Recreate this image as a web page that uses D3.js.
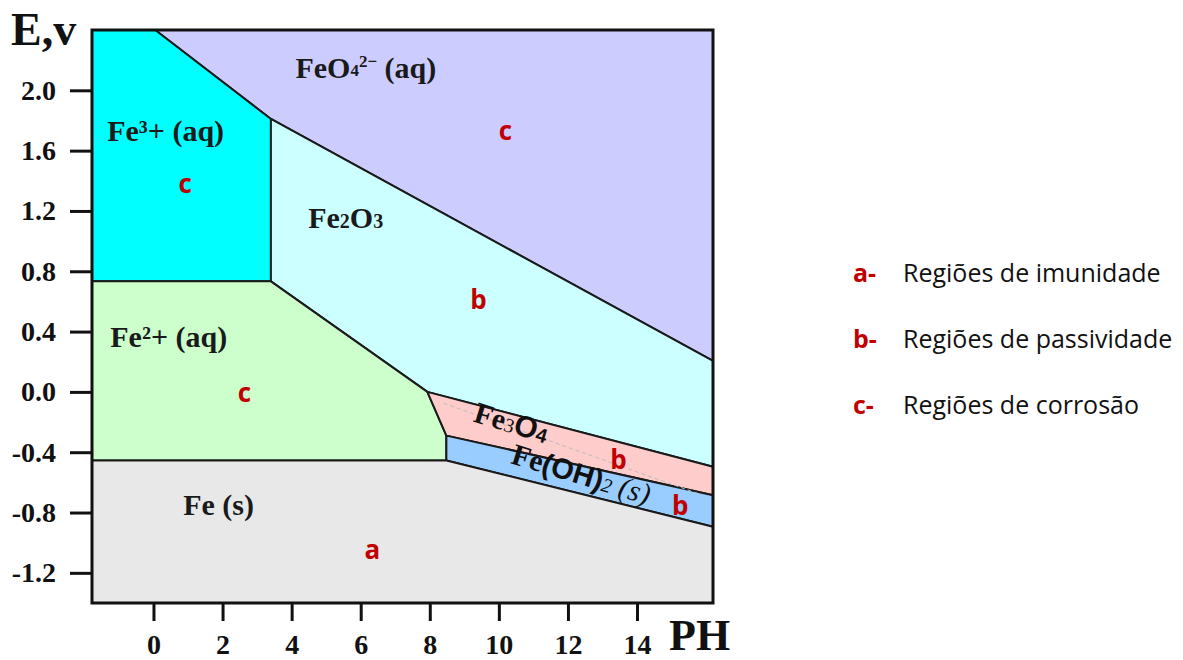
<!DOCTYPE html>
<html>
<head>
<meta charset="utf-8">
<script src="https://cdn.jsdelivr.net/npm/d3@7"></script>
<style>
  body { margin: 0; background: #fff; }
  svg { display: block; }
</style>
</head>
<body>
<svg id="chart" width="1183" height="660"></svg>
<script>
// pH / E (volt) domain of the diagram
var phRange = [-1.78, 16.2];
var eRange = [-1.40, 2.40];

var phTicks = [0, 2, 4, 6, 8, 10, 12, 14];
var eTicks = [2.0, 1.6, 1.2, 0.8, 0.4, 0.0, -0.4, -0.8, -1.2];

// region outlines, [pH, E]
var feO4 = [[0.05, 2.40], [16.2, 2.40], [16.2, 0.205], [3.40, 1.81]];
var fe3 = [[-1.78, 2.40], [0.05, 2.40], [3.40, 1.81], [3.40, 0.733], [-1.78, 0.733]];
var fe2o3 = [[3.40, 1.81], [16.2, 0.205], [16.2, -0.497], [7.93, 0.0], [3.40, 0.733]];
var fe2 = [[-1.78, 0.733], [3.40, 0.733], [7.93, 0.0], [8.48, -0.29], [8.48, -0.455], [-1.78, -0.455]];
var fe3o4 = [[7.93, 0.0], [16.2, -0.497], [16.2, -0.685], [8.48, -0.29]];
var feoh2 = [[8.48, -0.29], [16.2, -0.685], [16.2, -0.894], [8.48, -0.455]];
var feS = [[-1.78, -0.455], [8.48, -0.455], [16.2, -0.894], [16.2, -1.40], [-1.78, -1.40]];
var dashLine = [[8.40, -0.075], [15.9, -0.685]];

var regions = [
  {pts: feO4, fill: "#ccccff"},
  {pts: fe3, fill: "#00ffff"},
  {pts: fe2o3, fill: "#ccffff"},
  {pts: fe2, fill: "#ccffcc"},
  {pts: fe3o4, fill: "#ffcccc"},
  {pts: feoh2, fill: "#99ccff"},
  {pts: feS, fill: "#e8e8e8"}
];

// red region letters [letter, pH, E]
var zoneLetters = [
  ["c", 0.92, 1.38], ["c", 10.19, 1.733], ["b", 9.41, 0.607], ["c", 2.63, -0.008],
  ["b", 13.46, -0.452], ["b", 15.25, -0.757], ["a", 6.34, -1.05]
];

var legendKeys = ["a-", "b-", "c-"];
var legendTexts = ["Regiões de imunidade", "Regiões de passividade", "Regiões de corrosão"];

var svg = d3.select("#chart");

var x = d3.scaleLinear().domain(phRange).range([92, 713]);
var y = d3.scaleLinear().domain(eRange).range([603, 30]);

var line = d3.line().x(function (d) { return x(d[0]); }).y(function (d) { return y(d[1]); });

svg.append("g")
  .selectAll("path")
  .data(regions)
  .join("path")
  .attr("d", function (d) { return line(d.pts) + "Z"; })
  .style("fill", function (d) { return d.fill; })
  .style("stroke", "#1a1a1a")
  .style("stroke-width", 2)
  .style("stroke-linejoin", "round");

svg.append("path")
  .attr("d", line(dashLine))
  .style("fill", "none")
  .style("stroke", "#bbb")
  .style("stroke-width", 1)
  .style("stroke-dasharray", "4,3");

// frame
svg.append("rect")
  .attr("x", x(phRange[0]))
  .attr("y", y(eRange[1]))
  .attr("width", x(phRange[1]) - x(phRange[0]))
  .attr("height", y(eRange[0]) - y(eRange[1]))
  .style("fill", "none")
  .style("stroke", "#111")
  .style("stroke-width", 3);

// axes
var yAxis = svg.append("g")
  .attr("transform", "translate(" + x(phRange[0]) + ",0)")
  .call(d3.axisLeft(y).tickValues(eTicks).tickSize(22).tickPadding(14)
    .tickFormat(function (d) { return d.toFixed(1); }));
var xAxis = svg.append("g")
  .attr("transform", "translate(0," + y(eRange[0]) + ")")
  .call(d3.axisBottom(x).tickValues(phTicks).tickSize(18).tickPadding(13));

[yAxis, xAxis].forEach(function (g) {
  g.select(".domain").remove();
  g.selectAll(".tick line").style("stroke", "#111").style("stroke-width", 3);
  g.selectAll(".tick text")
    .style("font-family", "'Liberation Serif', serif")
    .style("font-weight", "bold")
    .style("font-size", "28px")
    .style("fill", "#111");
});

// axis titles
svg.append("text").attr("x", 11).attr("y", 45).text("E,v")
  .style("font-family", "'Liberation Serif', serif").style("font-weight", "bold")
  .style("font-size", "46px").style("fill", "#111");
svg.append("text").attr("x", 669).attr("y", 650).text("PH")
  .style("font-family", "'Liberation Serif', serif").style("font-weight", "bold")
  .style("font-size", "44px").style("fill", "#111");

// species labels
var lab = svg.append("g")
  .style("font-family", "'Liberation Serif', serif")
  .style("font-weight", "bold")
  .style("font-size", "30px")
  .style("fill", "#1a1a1a");

var t1 = lab.append("text").attr("x", x(4.11)).attr("y", y(2.08));
t1.append("tspan").text("FeO");
t1.append("tspan").text("4").style("font-size", "17px").attr("dy", -2);
t1.append("tspan").text("2−").style("font-size", "17px").attr("dy", -9);
t1.append("tspan").text(" (aq)").attr("dy", 11);

lab.append("text").attr("x", x(-1.34)).attr("y", y(1.667)).text("Fe³+ (aq)");
lab.append("text").attr("x", x(-1.25)).attr("y", y(0.296)).text("Fe²+ (aq)");
lab.append("text").attr("x", x(0.86)).attr("y", y(-0.817)).text("Fe (s)");

var t2 = lab.append("text").attr("x", x(4.48)).attr("y", y(1.085));
t2.append("tspan").text("Fe");
t2.append("tspan").text("2").style("font-size", "20px");
t2.append("tspan").text("O");
t2.append("tspan").text("3").style("font-size", "20px");

var t3 = lab.append("text")
  .attr("transform", "translate(" + x(10.28) + "," + y(-0.268) + ") rotate(17)")
  .attr("text-anchor", "middle")
  .style("font-weight", "normal")
  .style("fill", "#111");
t3.append("tspan").text("Fe").style("font-weight", "bold");
t3.append("tspan").text("3").style("font-size", "20px");
t3.append("tspan").text("O").style("font-family", "'Liberation Sans', sans-serif").style("font-weight", "bold");
t3.append("tspan").text("4").style("font-size", "20px").style("font-family", "'Liberation Sans', sans-serif").style("font-weight", "bold");

var t4 = lab.append("text")
  .attr("transform", "translate(" + x(12.3) + "," + y(-0.61) + ") rotate(17)")
  .attr("text-anchor", "middle")
  .style("font-weight", "normal")
  .style("fill", "#111");
t4.append("tspan").text("Fe").style("font-weight", "bold");
t4.append("tspan").text("(OH)").style("font-family", "'Liberation Sans', sans-serif").style("font-size", "29px").style("font-weight", "bold");
t4.append("tspan").text("2").style("font-size", "20px").style("font-style", "italic");
t4.append("tspan").text(" (s)").style("font-style", "italic");

// red zone letters
svg.append("g")
  .selectAll("text")
  .data(zoneLetters)
  .join("text")
  .attr("x", function (d) { return x(d[1]); })
  .attr("y", function (d) { return y(d[2]); })
  .attr("text-anchor", "middle")
  .attr("dy", "0.35em")
  .text(function (d) { return d[0]; })
  .style("font-family", "'Open Sans', sans-serif")
  .style("font-weight", "bold")
  .style("font-size", "26px")
  .style("fill", "#c00000");

// legend
var leg = svg.append("g")
  .selectAll("g")
  .data(legendKeys)
  .join("g")
  .attr("transform", function (d, i) { return "translate(853," + (282 + i * 66) + ")"; });
leg.append("text")
  .text(function (d) { return d; })
  .style("font-family", "'Open Sans', sans-serif")
  .style("font-weight", "bold")
  .style("font-size", "25px")
  .style("fill", "#c00000");
leg.append("text")
  .attr("x", 50)
  .text(function (d, i) { return legendTexts[i]; })
  .style("font-family", "'Open Sans', sans-serif")
  .style("font-size", "25px")
  .style("fill", "#111");
</script>
</body>
</html>
